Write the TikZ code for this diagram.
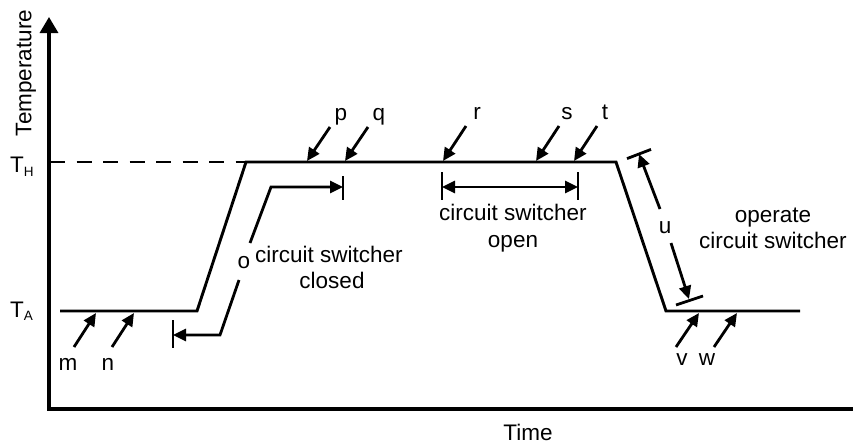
\documentclass[tikz,border=0pt]{standalone}
\usepackage{fontspec}
\setmainfont{Liberation Sans}
\usetikzlibrary{arrows.meta}
\begin{document}
\begin{tikzpicture}[x=1pt,y=-1pt,
  lbl/.style={inner sep=0pt,anchor=base,font=\fontsize{22.5}{27}\selectfont},
  curve/.style={line width=2.9pt,line join=miter},
  axis/.style={line width=3.2pt,line join=miter},
  ptr/.style={line width=2.8pt,-{Triangle[length=13pt,width=12pt]}},
  dptr/.style={line width=2.8pt,{Triangle[length=13pt,width=12pt]}-{Triangle[length=13pt,width=12pt]}},
  tickmark/.style={line width=2.8pt}]
\useasboundingbox (0,0) rectangle (853,445);
% axes
\coordinate (O) at (49,409);
\coordinate (Ytop) at (49,17);
\coordinate (Xend) at (853,409);
\draw[axis,-{Triangle[length=16pt,width=18pt]}] (Xend) -- (O) -- (Ytop);
\node[lbl,rotate=90,anchor=center] (temp) at (26,73) {Temperature};
\node[lbl] (time) at (528,440) {Time};
\node[lbl,anchor=base west] (TH) at (10,172) {T\raisebox{-4pt}{\fontsize{13.5}{14}\selectfont H}};
\node[lbl,anchor=base west] (TA) at (10,317) {T\raisebox{-3pt}{\fontsize{13.5}{14}\selectfont A}};
% temperature profile
\coordinate (a0) at (60,311);
\coordinate (a1) at (197,311);
\coordinate (h0) at (246,162);
\coordinate (h1) at (616,162);
\coordinate (a2) at (666,311);
\coordinate (a3) at (800,311);
\coordinate (d0) at (50,162);
\draw[curve] (a0) -- (a1) -- (h0) -- (h1) -- (a2) -- (a3);
\draw[curve,dash pattern=on 15pt off 11.5pt] (d0) -- (h0);
% pointer labels
\node[lbl] (m) at (68,370) {m};
\node[lbl] (n) at (108,370) {n};
\node[lbl] (p) at (341,120) {p};
\node[lbl] (q) at (379,120) {q};
\node[lbl] (r) at (477,119) {r};
\node[lbl] (s) at (567,119) {s};
\node[lbl] (t) at (605,119) {t};
\node[lbl] (v) at (682,365) {v};
\node[lbl] (w) at (707,365) {w};
\coordinate (m0) at (74,347);  \coordinate (m1) at (96,313);
\coordinate (n0) at (112,347); \coordinate (n1) at (134,313);
\coordinate (p0) at (330,127); \coordinate (p1) at (307,161);
\coordinate (q0) at (368,127); \coordinate (q1) at (345,161);
\coordinate (r0) at (466,126); \coordinate (r1) at (443,161);
\coordinate (s0) at (559,126); \coordinate (s1) at (536,161);
\coordinate (t0) at (597,126); \coordinate (t1) at (574,161);
\coordinate (v0) at (676,347); \coordinate (v1) at (699,313);
\coordinate (w0) at (714,347); \coordinate (w1) at (737,313);
\foreach \k in {m,n,p,q,r,s,t,v,w} {\draw[ptr] (\k0) -- (\k1);}
% bracket o : circuit switcher closed
\node[lbl] (o) at (244,268) {o};
\coordinate (ou0) at (250,243); \coordinate (ou1) at (271,187); \coordinate (ou2) at (343,187);
\coordinate (ol0) at (239,280); \coordinate (ol1) at (220,335); \coordinate (ol2) at (173,335);
\draw[ptr,line join=miter] (ou0) -- (ou1) -- (ou2);
\draw[ptr,line join=miter] (ol0) -- (ol1) -- (ol2);
\draw[tickmark] (343,176) -- (343,200);
\draw[tickmark] (173,320) -- (173,348);
\node[lbl] (closed1) at (329,262) {circuit switcher};
\node[lbl] (closed2) at (332,288) {closed};
% circuit switcher open
\coordinate (op0) at (442,187); \coordinate (op1) at (578,187);
\draw[tickmark] (442,172) -- (442,200);
\draw[tickmark] (578,172) -- (578,200);
\draw[dptr] (op0) -- (op1);
\node[lbl] (open1) at (513,220) {circuit switcher};
\node[lbl] (open2) at (513,247) {open};
% u : operate circuit switcher
\node[lbl] (u) at (665,233) {u};
\coordinate (u0) at (660,209); \coordinate (u1) at (639,154);
\coordinate (u2) at (671,243); \coordinate (u3) at (689,299);
\draw[ptr] (u0) -- (u1);
\draw[ptr] (u2) -- (u3);
\draw[tickmark] (627,158.6) -- (651,149.4);
\draw[tickmark] (676,305) -- (703,296);
\node[lbl] (oper1) at (773,222) {operate};
\node[lbl] (oper2) at (773,248) {circuit switcher};
\end{tikzpicture}
\end{document}
